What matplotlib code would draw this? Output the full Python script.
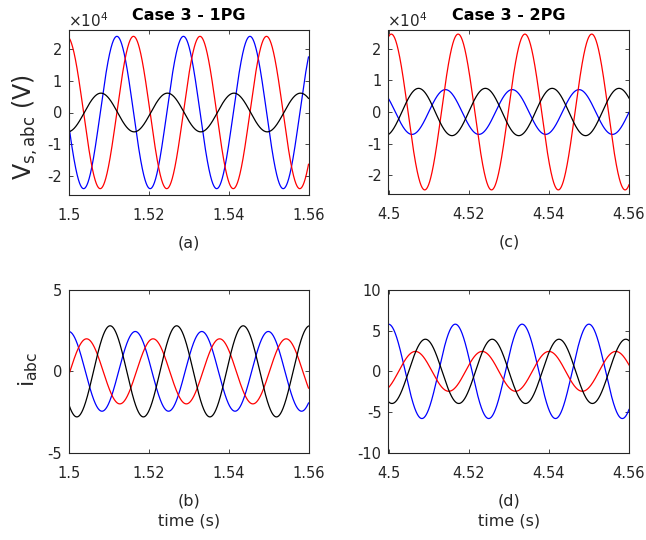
import numpy as np
import matplotlib
matplotlib.use("Agg")
import matplotlib.pyplot as plt

plt.rcParams['font.family'] = ['DejaVu Sans']
plt.rcParams['mathtext.fontset'] = 'dejavusans'
plt.rcParams['axes.unicode_minus'] = False

# ---- data ----
freq_hz = 60.0
phase_colors = ['blue', 'red', 'black']

# (a) Case 3 - 1PG, source voltage (V)
t_a = [1.50, 1.56]
amp_a = [2.40e4, 2.40e4, 0.61e4]
peak_a = [1.5120, 1.51615, 1.5080]

# (b) Case 3 - 1PG, current
t_b = [1.50, 1.56]
amp_b = [2.45, 2.0, 2.8]
peak_b = [1.5166, 1.5044, 1.5103]

# (c) Case 3 - 2PG, source voltage (V)
t_c = [4.50, 4.56]
amp_c = [0.71e4, 2.47e4, 0.75e4]
peak_c = [4.5142, 4.5007, 4.5075]

# (d) Case 3 - 2PG, current
t_d = [4.50, 4.56]
amp_d = [5.8, 2.45, 3.95]
peak_d = [4.5000, 4.5067, 4.5092]

xticks_1 = [1.50, 1.52, 1.54, 1.56]
xticklabels_1 = ['1.5', '1.52', '1.54', '1.56']
xticks_2 = [4.50, 4.52, 4.54, 4.56]
xticklabels_2 = ['4.5', '4.52', '4.54', '4.56']
v_yticks = [-2e4, -1e4, 0, 1e4, 2e4]
v_yticklabels = ['-2', '-1', '0', '1', '2']
ib_yticks = [-5, 0, 5]
id_yticks = [-10, -5, 0, 5, 10]

titles = ['Case 3 - 1PG', 'Case 3 - 2PG']
xlabels = ['(a)', '(b)\ntime (s)', '(c)', '(d)\ntime (s)']

W, H = 646, 540
fig = plt.figure(figsize=(W / 100, H / 100), dpi=100)

def box(l, t, r, b):
    return [l / W, 1 - b / H, (r - l) / W, (b - t) / H]

ax_a = fig.add_axes(box(69, 30, 308.5, 195))
ax_c = fig.add_axes(box(388.5, 30, 629, 194))
ax_b = fig.add_axes(box(69, 290, 308.5, 452.7))
ax_d = fig.add_axes(box(388.5, 290, 629, 452.7))

gray = (0.15, 0.15, 0.15)

def draw(ax, trange, amps, peaks, ylim, yticks, yticklabels, xticks, xticklabels):
    t = np.linspace(trange[0], trange[1], 1500)
    for col, a, tp in zip(phase_colors, amps, peaks):
        ax.plot(t, a * np.cos(2 * np.pi * freq_hz * (t - tp)), color=col, lw=0.9)
    ax.set_xlim(trange)
    ax.set_ylim(ylim)
    ax.set_xticks(xticks)
    ax.set_xticklabels(xticklabels)
    ax.set_yticks(yticks)
    ax.set_yticklabels(yticklabels)
    ax.tick_params(direction='in', length=3, width=0.6, colors=gray,
                   labelsize=10.5, top=True, right=True)
    ax.tick_params(axis='x', pad=9.5)
    ax.tick_params(axis='y', pad=5)
    for s in ax.spines.values():
        s.set_color(gray)
        s.set_linewidth(0.8)

draw(ax_a, t_a, amp_a, peak_a, (-2.6e4, 2.6e4), v_yticks, v_yticklabels, xticks_1, xticklabels_1)
draw(ax_b, t_b, amp_b, peak_b, (-5, 5), ib_yticks, [str(v) for v in ib_yticks], xticks_1, xticklabels_1)
draw(ax_c, t_c, amp_c, peak_c, (-2.6e4, 2.6e4), v_yticks, v_yticklabels, xticks_2, xticklabels_2)
draw(ax_d, t_d, amp_d, peak_d, (-10, 10), id_yticks, [str(v) for v in id_yticks], xticks_2, xticklabels_2)

for ax, lab in zip([ax_a, ax_b, ax_c, ax_d], xlabels):
    ax.set_xlabel(lab, fontsize=11.5, color=gray, labelpad=9, linespacing=1.45)

for ax in [ax_a, ax_c]:
    ax.annotate(r'$\times10^{4}$', xy=(0, 1), xycoords='axes fraction',
                xytext=(-1, 2.5), textcoords='offset points',
                fontsize=11, color=gray, ha='left', va='baseline')

ax_a.set_title(titles[0], fontsize=11.5, fontweight='bold', pad=7)
ax_c.set_title(titles[1], fontsize=11.5, fontweight='bold', pad=7)

ax_a.set_ylabel(r'V$_{\mathrm{s,abc}}$ (V)', fontsize=17, color=gray)
ax_a.yaxis.set_label_coords(-0.12, 0.41)
ax_b.set_ylabel(r'i$_{\mathrm{abc}}$', fontsize=16, color=gray)
ax_b.yaxis.set_label_coords(-0.12, 0.51)

fig.savefig('out.png', dpi=100)
